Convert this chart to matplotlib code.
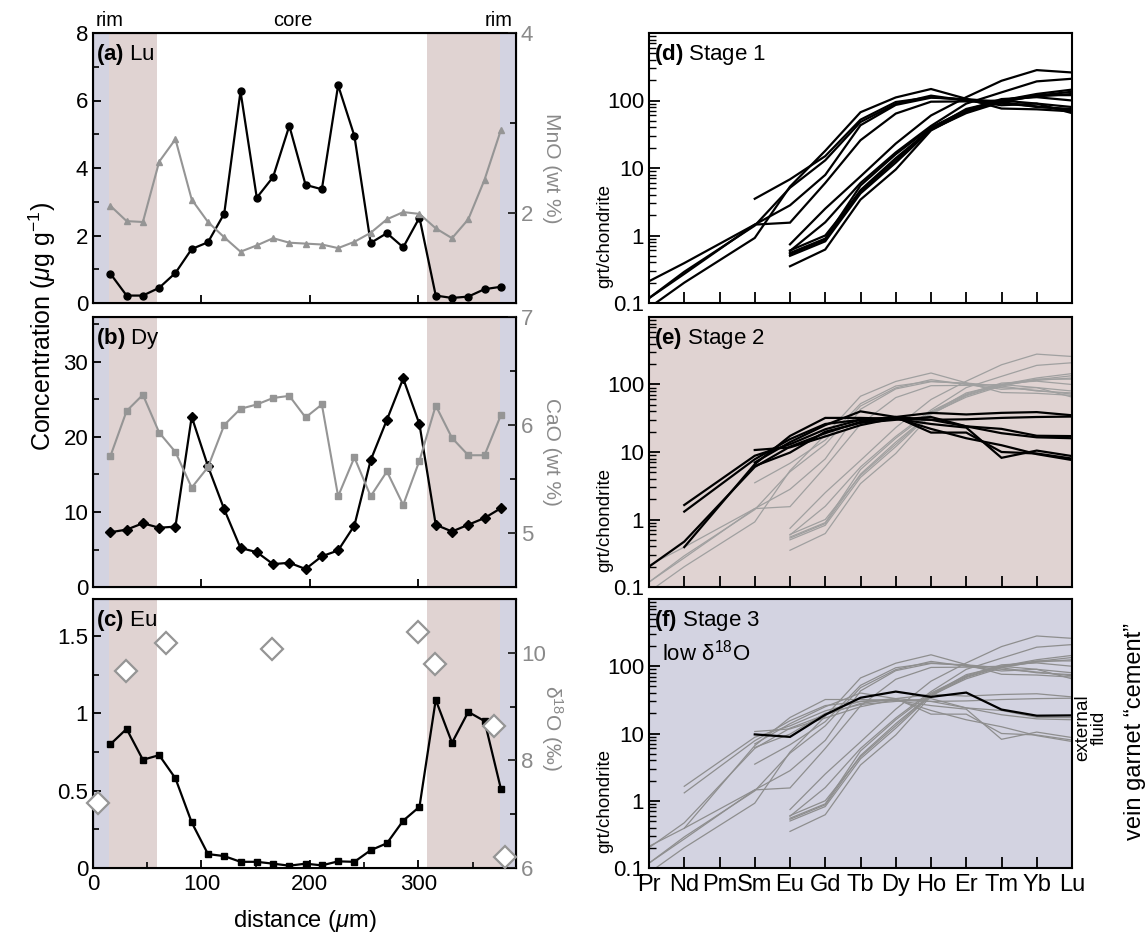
import matplotlib
matplotlib.use('Agg')
import matplotlib.pyplot as plt
from matplotlib.ticker import FixedLocator, NullFormatter, LogLocator, FixedFormatter

plt.rcParams['font.family'] = ['Liberation Sans', 'DejaVu Sans']
plt.rcParams['mathtext.fontset'] = 'custom'
plt.rcParams['mathtext.rm'] = 'Liberation Sans'
plt.rcParams['mathtext.it'] = 'Liberation Sans:italic'
plt.rcParams['mathtext.bf'] = 'Liberation Sans:bold'

# ---------------- profile data (left column) ----------------
distance = [16, 31, 46, 61, 76, 91, 106, 121, 136, 151, 166, 181, 196,
            211, 226, 241, 256, 271, 286, 301, 316, 331, 346, 361, 376]
lu = [0.87, 0.22, 0.22, 0.45, 0.89, 1.6, 1.8, 2.65, 6.27, 3.12, 3.73, 5.25, 3.5,
      3.37, 6.45, 4.95, 1.78, 2.07, 1.65, 2.53, 0.22, 0.15, 0.19, 0.41, 0.48]
mno = [2.08, 1.91, 1.90, 2.57, 2.82, 2.15, 1.90, 1.73, 1.57, 1.64, 1.72, 1.67, 1.66,
       1.65, 1.61, 1.68, 1.78, 1.93, 2.01, 1.99, 1.83, 1.72, 1.93, 2.37, 2.92]
dy = [7.3, 7.65, 8.5, 7.9, 8.05, 22.7, 16.1, 10.35, 5.2, 4.65, 3.05, 3.23, 2.4,
      4.1, 4.87, 8.2, 16.9, 22.3, 27.8, 21.7, 8.3, 7.4, 8.3, 9.2, 10.5]
cao = [5.71, 6.13, 6.28, 5.93, 5.75, 5.42, 5.61, 6.0, 6.15, 6.19, 6.25, 6.27, 6.07,
       6.19, 5.34, 5.70, 5.34, 5.57, 5.26, 5.67, 6.18, 5.88, 5.72, 5.72, 6.09]
eu = [0.80, 0.90, 0.70, 0.73, 0.58, 0.295, 0.09, 0.077, 0.04, 0.04, 0.028, 0.015, 0.028,
      0.017, 0.043, 0.04, 0.115, 0.16, 0.306, 0.396, 1.088, 0.81, 1.01, 0.95, 0.514]
d18o_x = [4.3, 30.5, 67.4, 165, 300, 315, 369.5, 379.4]
d18o = [7.2, 9.67, 10.19, 10.07, 10.38, 9.8, 8.64, 6.2]

zone_rim = [(0, 15), (375, 390)]
zone_mid = [(15, 59), (308, 375)]

# ---------------- REE patterns (right column) ----------------
ree = ['Pr', 'Nd', 'Pm', 'Sm', 'Eu', 'Gd', 'Tb', 'Dy', 'Ho', 'Er', 'Tm', 'Yb', 'Lu']
N = None
stage1 = [
    [0.21, 0.39, N, 1.45, 2.8, 7.9, 43, 86, 110, 105, 95, 80, 75],
    [0.118, 0.27, N, 1.45, 1.55, 6.0, 25.8, 64, 96, 97, 100, 90, 65],
    [0.118, 0.29, N, 1.4, 5.1, 13, 48, 89, 118, 100, 85, 90, 80],
    [0.085, 0.2, N, 0.92, 5.3, 18, 67, 111, 148, 106, 76, 74, 69],
    [N, N, N, 3.5, 6.8, 15, 52, 95, 112, 102, 90, 82, 72],
    [N, N, N, N, 0.74, 2.5, 7.5, 23, 60, 112, 196, 282, 260],
    [N, N, N, N, 0.59, 1.57, 6.0, 17, 42, 90, 132, 192, 210],
    [N, N, N, N, 0.53, 0.87, 4.7, 14, 38, 70, 100, 125, 145],
    [N, N, N, N, 0.50, 0.82, 4.2, 12, 37, 65, 95, 118, 135],
    [N, N, N, N, 0.35, 0.62, 3.4, 9.5, 36, 68, 98, 115, 125],
    [N, N, N, N, 0.55, 0.9, 5.5, 16, 40, 72, 105, 112, 100],
    [N, N, N, N, 0.60, 1.0, 4.5, 13, 38, 75, 100, 120, 120],
]
stage2 = [
    [0.2, 0.47, N, 6.0, 12, 19, 28, 33, 30, 24, 19, 16.5, 16],
    [N, 1.64, N, 8.8, 13, 21.7, 30, 33, 38, 36, 38, 39, 35],
    [N, 1.31, N, 7.8, 15.5, 26, 30, 31, 30, 30.5, 32, 33, 33.5],
    [N, 0.39, N, 6.6, 17.3, 32, 32, 31, 26, 23, 8.2, 10.5, 8.7],
    [N, N, N, 10.7, 11.7, 17, 25, 32, 22, 16, 12.6, 9.3, 7.6],
    [N, N, N, 6.2, 9.8, 20, 27, 30, 33, 24, 22, 17.4, 17.2],
    [N, N, N, 7.0, 14, 25, 40, 33, 19.4, 19.4, 10, 9.5, 8.0],
]
stage3 = [
    [N, N, N, 9.7, 8.9, 19, 34, 42, 35, 40.6, 22.7, 18.4, 18.6],
]

GRAY = '#959595'
GRAYTXT = '#8a8a8a'
PURPLE = '#d3d3e1'
PINK = '#e0d3d2'

fig = plt.figure(figsize=(11.48, 9.34), dpi=100)
W, H = 1148, 934


def rect(x0, x1, y0, y1):
    return [x0 / W, 1 - y1 / H, (x1 - x0) / W, (y1 - y0) / H]


rows = [(33, 303), (317, 587), (599, 868)]
LX = (93, 516)
RX = (649, 1072)

TICK = 16


def style_left(ax, minor_x):
    ax.set_xlim(0, 390)
    ax.xaxis.set_major_locator(FixedLocator([0, 100, 200, 300]))
    if minor_x:
        ax.xaxis.set_minor_locator(FixedLocator([50, 150, 250, 350]))
    ax.tick_params(axis='both', which='major', direction='in', length=6, width=1.3,
                   labelsize=TICK, top=False, right=False)
    ax.tick_params(axis='both', which='minor', direction='in', length=4, width=1.2,
                   top=False, right=False)
    for s in ax.spines.values():
        s.set_linewidth(1.5)
    for a, b in zone_rim:
        ax.axvspan(a, b, color=PURPLE, lw=0, zorder=0)
    for a, b in zone_mid:
        ax.axvspan(a, b, color=PINK, lw=0, zorder=0)


def style_twin(ax2, ylim, major, minor, labels):
    ax2.set_ylim(*ylim)
    ax2.yaxis.set_major_locator(FixedLocator(major))
    ax2.yaxis.set_major_formatter(FixedFormatter(labels))
    ax2.yaxis.set_minor_locator(FixedLocator(minor))
    ax2.tick_params(axis='y', which='major', direction='in', length=6, width=1.3,
                    labelsize=TICK, labelcolor=GRAYTXT, color='#222222')
    ax2.tick_params(axis='y', which='minor', direction='in', length=4, width=1.2)


# ---- panel (a)
axa = fig.add_axes(rect(LX[0], LX[1], *rows[0]))
style_left(axa, False)
axa.set_ylim(0, 8)
axa.yaxis.set_major_locator(FixedLocator([0, 2, 4, 6, 8]))
axa.yaxis.set_minor_locator(FixedLocator([1, 3, 5, 7]))
axa.set_xticklabels([])
axa.plot(distance, lu, color='black', lw=1.6, marker='o', ms=5, zorder=3)
axa2 = axa.twinx()
style_twin(axa2, (1, 4), [2, 4], [3], ['2', '4'])
axa2.plot(distance, mno, color=GRAY, lw=1.5, marker='^', ms=5, zorder=2)
axa.text(0.008, 0.965, r'$\mathbf{(a)}$ Lu', transform=axa.transAxes, fontsize=16,
         va='top', ha='left')
axa.text(1.085, 0.5, 'MnO (wt %)', transform=axa.transAxes, rotation=270,
         ha='center', va='center', fontsize=15, color=GRAYTXT)
axa.text(2, 1.012, 'rim', transform=axa.get_xaxis_transform(), ha='left', va='bottom', fontsize=14.5)
axa.text(184, 1.012, 'core', transform=axa.get_xaxis_transform(), ha='center', va='bottom', fontsize=14.5)
axa.text(387, 1.012, 'rim', transform=axa.get_xaxis_transform(), ha='right', va='bottom', fontsize=14.5)

# ---- panel (b)
axb = fig.add_axes(rect(LX[0], LX[1], *rows[1]))
style_left(axb, False)
axb.set_ylim(0, 36)
axb.yaxis.set_major_locator(FixedLocator([0, 10, 20, 30]))
axb.yaxis.set_minor_locator(FixedLocator([5, 15, 25, 35]))
axb.set_xticklabels([])
axb.plot(distance, dy, color='black', lw=1.6, marker='D', ms=5, zorder=3)
axb2 = axb.twinx()
style_twin(axb2, (4.5, 7), [5, 6, 7], [5.5, 6.5], ['5', '6', '7'])
axb2.plot(distance, cao, color=GRAY, lw=1.5, marker='s', ms=5, zorder=2)
axb.text(0.008, 0.965, r'$\mathbf{(b)}$ Dy', transform=axb.transAxes, fontsize=16,
         va='top', ha='left')
axb.text(1.085, 0.5, 'CaO (wt %)', transform=axb.transAxes, rotation=270,
         ha='center', va='center', fontsize=15, color=GRAYTXT)

# ---- panel (c)
axc = fig.add_axes(rect(LX[0], LX[1], *rows[2]))
style_left(axc, True)
axc.set_ylim(0, 1.74)
axc.yaxis.set_major_locator(FixedLocator([0, 0.5, 1, 1.5]))
axc.yaxis.set_major_formatter(FixedFormatter(['0', '0.5', '1', '1.5']))
axc.yaxis.set_minor_locator(FixedLocator([0.25, 0.75, 1.25]))
axc.plot(distance, eu, color='black', lw=1.6, marker='s', ms=5, zorder=3)
axc2 = axc.twinx()
style_twin(axc2, (6, 11), [6, 8, 10], [7, 9, 11], ['6', '8', '10'])
axc2.plot(d18o_x, d18o, ls='none', marker='D', ms=11, mfc='white', mec=GRAY, mew=1.6,
          clip_on=False, zorder=4)
axc.text(0.008, 0.965, r'$\mathbf{(c)}$ Eu', transform=axc.transAxes, fontsize=16,
         va='top', ha='left')
axc.text(1.085, 0.52, r'δ$^{18}$O (‰)', transform=axc.transAxes, rotation=270,
         ha='center', va='center', fontsize=15, color=GRAYTXT)
axc.set_xlabel(r'distance ($\mu$m)', fontsize=17, labelpad=10)
axc.tick_params(axis='x', pad=4)

fig.text(42 / W, 1 - 326 / H, r'Concentration ($\mu$g g$^{-1}$)', rotation=90,
         ha='center', va='center', fontsize=18)


# ---------------- right column ----------------
def draw_lines(ax, series, color, lw, z):
    for vals in series:
        xs = [i for i, v in enumerate(vals) if v is not None]
        ys = [v for v in vals if v is not None]
        ax.plot(xs, ys, color=color, lw=lw, zorder=z, solid_joinstyle='miter')


def style_right(ax, bg, show_x):
    ax.set_facecolor(bg)
    ax.set_yscale('log')
    ax.set_ylim(0.1, 1000)
    ax.set_xlim(0, 12)
    ax.xaxis.set_major_locator(FixedLocator(list(range(13))))
    if show_x:
        ax.set_xticklabels(ree)
    else:
        ax.set_xticklabels([])
    ax.yaxis.set_major_locator(FixedLocator([0.1, 1, 10, 100]))
    ax.yaxis.set_major_formatter(FixedFormatter(['0.1', '1', '10', '100']))
    ax.yaxis.set_minor_locator(LogLocator(base=10, subs=range(2, 10)))
    ax.yaxis.set_minor_formatter(NullFormatter())
    ax.tick_params(axis='both', which='major', direction='in', length=8, width=1.3,
                   labelsize=TICK, top=False, right=False)
    ax.tick_params(axis='x', which='major', pad=4, labelsize=17)
    ax.tick_params(axis='y', which='minor', direction='in', length=5, width=1.0,
                   right=False)
    for s in ax.spines.values():
        s.set_linewidth(1.5)
    ax.text(-0.104, 0.25, 'grt/chondrite', transform=ax.transAxes, rotation=90,
            ha='center', va='center', fontsize=13.5)


axd = fig.add_axes(rect(RX[0], RX[1], *rows[0]))
style_right(axd, 'white', False)
draw_lines(axd, stage1, 'black', 1.6, 3)
axd.text(0.012, 0.965, r'$\mathbf{(d)}$ Stage 1', transform=axd.transAxes, fontsize=16,
         va='top', ha='left')

axe = fig.add_axes(rect(RX[0], RX[1], *rows[1]))
style_right(axe, PINK, False)
draw_lines(axe, stage1, '#a0a0a0', 0.9, 2)
draw_lines(axe, stage2, 'black', 1.6, 3)
axe.text(0.012, 0.965, r'$\mathbf{(e)}$ Stage 2', transform=axe.transAxes, fontsize=16,
         va='top', ha='left')

axf = fig.add_axes(rect(RX[0], RX[1], *rows[2]))
style_right(axf, PURPLE, True)
draw_lines(axf, stage1, '#8e8e8e', 0.9, 2)
draw_lines(axf, stage2, '#8e8e8e', 0.9, 2)
draw_lines(axf, stage3, 'black', 1.6, 3)
axf.text(0.012, 0.965, r'$\mathbf{(f)}$ Stage 3', transform=axf.transAxes, fontsize=16,
         va='top', ha='left')
axf.text(0.03, 0.80, r'low δ$^{18}$O', transform=axf.transAxes, fontsize=16,
         va='center', ha='left')
axf.text(1.045, 0.52, 'external\nfluid', transform=axf.transAxes, rotation=90,
         ha='center', va='center', fontsize=13.5, linespacing=0.95)
fig.text(1135 / W, 1 - 732 / H, 'vein garnet “cement”', rotation=90,
         ha='center', va='center', fontsize=17)

fig.savefig('out.png', dpi=100)
